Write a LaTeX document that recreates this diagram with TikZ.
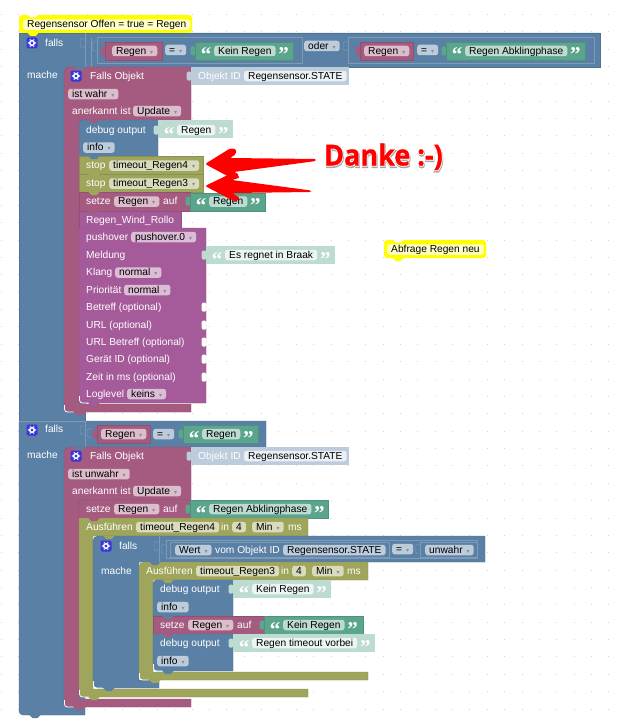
\documentclass[tikz,border=0pt]{standalone}
\usepackage{fontspec}
\setmainfont{Liberation Sans}
\newfontfamily\symbfont{DejaVu Sans}
\newfontfamily\quotefont{Liberation Serif}
\newfontfamily\dankefont[FakeStretch=.93,BoldFeatures={FakeBold=1}]{Open Sans}
\newfontfamily\dankehalo[FakeStretch=.93,BoldFeatures={FakeBold=7}]{Open Sans}
\usetikzlibrary{positioning}
\definecolor{logicblue}{HTML}{5B80A5}
\definecolor{logichi}{HTML}{7D9AB7}
\definecolor{varpink}{HTML}{A55B80}
\definecolor{textgreen}{HTML}{5BA58C}
\definecolor{olivebk}{HTML}{9FA55B}
\definecolor{purplebk}{HTML}{A55B99}
\definecolor{shadowblue}{HTML}{BDCCDB}
\definecolor{shadowgreen}{HTML}{BDDBD1}
\definecolor{pillpink}{HTML}{DBBDCC}
\definecolor{pillolive}{HTML}{D9DBBD}
\definecolor{pillpurple}{HTML}{DBBDD6}
\definecolor{pillwblue}{HTML}{EBF0F5}
\definecolor{pillwgreen}{HTML}{EBF5F1}
\definecolor{commentyel}{HTML}{FFFF00}
\definecolor{commentpale}{HTML}{FFFFC4}
\definecolor{griddot}{HTML}{D2D2D2}
\definecolor{iconblue}{HTML}{3636DC}
\newcommand{\fs}{\fontsize{10.2}{12}\selectfont}
\newcommand{\dd}{\makebox[7pt][r]{\textcolor{black!45}{\symbfont\fontsize{6}{6}\selectfont ▾}}}
\tikzset{
  lbl/.style={anchor=west,inner sep=0pt,text=white,text height=8.5pt,text depth=2pt,font=\fs},
  pill/.style={anchor=west,rounded corners=2.5pt,inner xsep=4pt,inner ysep=0pt,text=black,text height=8.5pt,text depth=2pt,font=\fs},
  pillpk/.style={pill,fill=pillpink},
  pillbl/.style={pill,fill=shadowblue},
  pillgr/.style={pill,fill=shadowgreen},
  pillol/.style={pill,fill=pillolive},
  pillpu/.style={pill,fill=pillpurple},
  pillwb/.style={pill,fill=pillwblue},
  pillwg/.style={pill,fill=pillwgreen},
  pillye/.style={pill,fill=commentpale},
  quot/.style={inner sep=0pt,text=white,text height=6pt,text depth=0pt,yshift=-8pt,font=\quotefont\bfseries\fontsize{21}{21}\selectfont},
  bluebk/.style={fill=logicblue,draw=logicblue!88!black,line width=.4pt},
  pinkbk/.style={fill=varpink,draw=varpink!88!black,line width=.4pt},
  greenbk/.style={fill=textgreen,draw=textgreen!88!black,line width=.4pt},
  olivbk/.style={fill=olivebk,draw=olivebk!88!black,line width=.4pt},
  purpbk/.style={fill=purplebk,draw=purplebk!88!black,line width=.4pt},
  gear/.pic={
    \fill[iconblue,rounded corners=2pt] (-5.5,-5.5) rectangle (5.5,5.5);
    \draw[white,line width=1.5pt] (0,0) circle (2.3);
    \foreach \a in {0,60,...,300} \fill[white] (\a:3.6) circle (.8);
  },
}
% small bump under a block
\newcommand{\bump}[3]{\fill[#1] (#2-5.5,#3) -- (#2-2.5,#3+3) -- (#2+2.5,#3+3) -- (#2+5.5,#3) -- cycle;}
% puzzle tab left of a value
\newcommand{\tab}[3]{\fill[#1,rounded corners=1.5pt] (#2-4.5,#3-4.5) rectangle (#2+.5,#3+4.5);}
% empty socket, outline only
\newcommand{\socket}[2]{\draw[logichi,rounded corners=1.5pt] (#1,#2-4.5) -- (#1-4.5,#2-4.5) -- (#1-4.5,#2+4.5) -- (#1,#2+4.5);}
% white edge on a lower left corner
\newcommand{\hicorner}[2]{\draw[white,line width=.8pt,rounded corners=3pt] (#1,#2-7) -- (#1,#2) -- (#1+9,#2);}
% text value with its quote marks
\newcommand{\lit}[5]{
  \node (#1) [#2] at (#3,#4) {#5};
  \node (#1o) [quot,left=2.5pt of #1] {“};
  \node (#1c) [quot,right=2.5pt of #1] {”};
}
\begin{document}
\begin{tikzpicture}[x=1pt,y=-1pt]
\useasboundingbox (0,0) rectangle (621,725);
\fill[white] (0,0) rectangle (621,725);
\foreach \i in {0,...,35} \foreach \j in {0,...,40}
  \fill[griddot] (.5+17.37*\i,13.8+17.37*\j) rectangle +(1,1);
%
% first falls
\path[bluebk] (19,33) -- (600,33) -- (600,67) -- (85,67) -- (85,421) -- (19,421) -- cycle;
\draw[logichi] (85,33) -- (85,67) (91,38) -- (91,67);
\socket{85}{43}
\draw[logichi] (97,37.5) rectangle (302,63.5) (348,37.5) rectangle (594,63.5);
\socket{97}{46}
\socket{348}{46}
\pic at (32,43) {gear};
\node (falls1) [lbl] at (45,43) {falls};
\node (mache1) [lbl] at (27,75) {mache};
\tab{varpink}{105}{51}
\fill[pinkbk] (105,42) rectangle (162,60);
\node (var1) [pillpk] at (112,51) {Regen\dd};
\node (eq1) [pillbl] at (165,50) {=\dd};
\tab{textgreen}{195}{51}
\fill[greenbk] (195,42) rectangle (293,60);
\lit{txt1}{pillgr}{214}{51}{Kein Regen}
\node (oder1) [pillbl] at (304,46) {oder\dd};
\tab{varpink}{360}{51}
\fill[pinkbk] (360,42) rectangle (413,60);
\node (var2) [pillpk] at (364,51) {Regen\dd};
\node (eq2) [pillbl] at (417,50) {=\dd};
\tab{textgreen}{446}{51}
\fill[greenbk] (446,42) rectangle (585,60);
\lit{txt2}{pillgr}{465}{51}{Regen Abklingphase}
%
% second falls
\path[bluebk] (19,421) -- (266,421) -- (266,447) -- (85,447) -- (85,715) [rounded corners=4pt] -- (19,715) [sharp corners] -- cycle;
\draw[logichi] (19,421) -- (85,421) -- (85,447);
\socket{85}{430}
\socket{92}{433}
\bump{logicblue}{35}{715}
\pic at (32,430) {gear};
\node (falls2) [lbl] at (45,429.5) {falls};
\node (mache2) [lbl] at (27,455) {mache};
\tab{varpink}{97}{434}
\fill[pinkbk] (97,425) rectangle (150,443);
\node (var3) [pillpk] at (101,434) {Regen\dd};
\node (eq3) [pillbl] at (153,434) {=\dd};
\tab{textgreen}{183}{434}
\fill[greenbk] (183,425) rectangle (258,443);
\lit{txt3}{pillgr}{202}{434}{Regen}
%
% falls objekt, upper
\path[pinkbk] (64,72) [rounded corners=5pt] -- (64,67) [sharp corners] -- (191,67) -- (191,120) -- (79,120) -- (79,404) -- (191,404) -- (191,412) [rounded corners=5pt] -- (64,412) [sharp corners] -- cycle;
\bump{logicblue}{80}{67}
\bump{varpink}{80}{412}
\hicorner{64.5}{412}
\tab{shadowblue}{191}{76}
\fill[shadowblue] (191,67) rectangle (349,85);
\pic at (76,76) {gear};
\node (obj1) [lbl] at (90,76) {Falls Objekt};
\node (objid1) [lbl] at (198,76) {Objekt ID};
\node (state1) [pillwb] at (244,76) {Regensensor.STATE};
\node (wahr1) [pillpk] at (68,94) {ist wahr\dd};
\node (ack1) [lbl] at (72,111) {anerkannt ist};
\node (upd1) [pillpk] at (133,111) {Update\dd};
%
% debug, stop and setze
\path[bluebk] (79,124) [rounded corners=4pt] -- (79,120) [sharp corners] -- (158,120) -- (158,156) -- (79,156) -- cycle;
\bump{varpink}{94}{120}
\tab{shadowgreen}{158}{130}
\fill[shadowgreen] (158,120) rectangle (233,138);
\node (dbg1) [lbl] at (86,130) {debug output};
\lit{txt4}{pillwg}{177}{130}{Regen}
\node (info1) [pillbl] at (83,147.5) {info\dd};
\fill[olivbk] (79,156) rectangle (203,174);
\fill[olivbk] (79,174) rectangle (203,192);
\bump{logicblue}{94}{156}
\bump{olivebk}{94}{174}
\node (stop1) [lbl] at (86,165.5) {stop};
\node (tmo1) [pillol] at (109,165.5) {timeout\_Regen4\dd};
\node (stop2) [lbl] at (86,183.5) {stop};
\node (tmo2) [pillol] at (109,183.5) {timeout\_Regen3\dd};
\fill[pinkbk] (79,192) rectangle (190,211);
\bump{olivebk}{94}{192}
\tab{textgreen}{190}{201}
\fill[greenbk] (190,193) rectangle (265,211);
\node (setze1) [lbl] at (86,201.5) {setze};
\node (var4) [pillpk] at (114,201.5) {Regen\dd};
\node (auf1) [lbl] at (163,201.5) {auf};
\lit{txt5}{pillgr}{209}{201.5}{Regen}
%
% pushover
\fill[purpbk] (79,211) rectangle (181,228);
\bump{varpink}{94}{211}
\node (wind1) [lbl] at (86,220) {Regen\_Wind\_Rollo};
\path[purpbk] (79,228) -- (206,228) -- (206,403) [rounded corners=4pt] -- (79,403) [sharp corners] -- cycle;
\bump{purplebk}{94}{228}
\bump{purplebk}{94}{403}
\hicorner{79.5}{403}
\node (po1) [lbl] at (86,237) {pushover};
\node (po2) [pillpu] at (131,237) {pushover.0\dd};
\node (po3) [lbl] at (86,255) {Meldung};
\tab{shadowgreen}{206}{255}
\fill[shadowgreen] (206,246) rectangle (335,264);
\lit{txt6}{pillwg}{225}{255}{Es regnet in Braak}
\node (po4) [lbl] at (86,272.5) {Klang};
\node (po5) [pillpu] at (115,272.5) {normal\dd};
\node (po6) [lbl] at (86,290) {Priorität};
\node (po7) [pillpu] at (124,290) {normal\dd};
\node (po8) [lbl] at (86,307) {Betreff (optional)};
\node (po9) [lbl] at (86,325) {URL (optional)};
\node (po10) [lbl] at (86,342) {URL Betreff (optional)};
\node (po11) [lbl] at (86,359) {Gerät ID (optional)};
\node (po12) [lbl] at (86,377) {Zeit in ms (optional)};
\foreach \r in {307,325,342,359,377} {\tab{white}{206}{\r}}
\node (po13) [lbl] at (86,394) {Loglevel};
\node (po14) [pillpu] at (127,394) {keins\dd};
%
% falls objekt, lower
\path[pinkbk] (64,452) [rounded corners=5pt] -- (64,447) [sharp corners] -- (191,447) -- (191,500) -- (79,500) -- (79,699) -- (191,699) -- (191,707) [rounded corners=5pt] -- (64,707) [sharp corners] -- cycle;
\bump{logicblue}{80}{447}
\bump{varpink}{80}{707}
\hicorner{64.5}{707}
\tab{shadowblue}{191}{456}
\fill[shadowblue] (191,447) rectangle (349,465);
\pic at (76,456) {gear};
\node (obj2) [lbl] at (90,456) {Falls Objekt};
\node (objid2) [lbl] at (198,456) {Objekt ID};
\node (state2) [pillwb] at (244,456) {Regensensor.STATE};
\node (wahr2) [pillpk] at (68,474) {ist unwahr\dd};
\node (ack2) [lbl] at (72,491) {anerkannt ist};
\node (upd2) [pillpk] at (133,491) {Update\dd};
\path[pinkbk] (79,504) [rounded corners=4pt] -- (79,500) [sharp corners] -- (190,500) -- (190,518) -- (79,518) -- cycle;
\tab{textgreen}{190}{509}
\fill[greenbk] (190,500) rectangle (328,518);
\node (setze2) [lbl] at (86,509) {setze};
\node (var5) [pillpk] at (114,509) {Regen\dd};
\node (auf2) [lbl] at (163,509) {auf};
\lit{txt7}{pillgr}{209}{509}{Regen Abklingphase}
%
% ausfuehren, outer
\path[olivbk] (79,518) -- (308,518) -- (308,536) -- (93,536) -- (93,689) -- (308,689) -- (308,697) [rounded corners=5pt] -- (79,697) [sharp corners] -- cycle;
\bump{varpink}{94}{518}
\bump{olivebk}{94}{697}
\hicorner{79.5}{697}
\node (run1) [lbl] at (86,527) {Ausführen};
\node (tmo3) [pillol] at (136,527) {timeout\_Regen4};
\node (in1) [lbl] at (221,527) {in};
\node (num1) [pillol] at (232,527) {4};
\node (unit1) [pillol] at (252,527) {Min\dd};
\node (ms1) [lbl] at (288,527) {ms};
%
% inner falls
\path[bluebk] (93,600) [rounded corners=5pt] -- (93,536) [sharp corners] -- (485,536) -- (485,562) -- (139,562) -- (139,680) -- (159,680) -- (159,688) [rounded corners=5pt] -- (93,688) [sharp corners] -- cycle;
\bump{olivebk}{109}{536}
\bump{logicblue}{109}{688}
\hicorner{93.5}{688}
\draw[logichi] (159,536) -- (159,562) (166,540) rectangle (477,558) (170,542) rectangle (389,557) (420,542) rectangle (477,557);
\socket{159}{546}
\socket{166}{549}
\socket{420}{549}
\pic at (106,546) {gear};
\node (falls3) [lbl] at (119,546) {falls};
\node (mache3) [lbl] at (101,571) {mache};
\node (wert1) [pillbl] at (175,550) {Wert\dd};
\node (vom1) [lbl] at (215,550) {vom Objekt ID};
\node (state3) [pillbl] at (283,550) {Regensensor.STATE};
\node (eq4) [pillbl] at (392,549) {=\dd};
\node (unw1) [pillbl] at (425,550) {unwahr\dd};
%
% ausfuehren, inner
\path[olivbk] (139,620) [rounded corners=5pt] -- (139,562) [sharp corners] -- (368,562) -- (368,580) -- (153,580) -- (153,672) -- (368,672) -- (368,680) [rounded corners=5pt] -- (139,680) [sharp corners] -- cycle;
\bump{logicblue}{155}{562}
\bump{olivebk}{155}{680}
\hicorner{139.5}{680}
\node (run2) [lbl] at (146,571) {Ausführen};
\node (tmo4) [pillol] at (196,571) {timeout\_Regen3};
\node (in2) [lbl] at (281,571) {in};
\node (num2) [pillol] at (292,571) {4};
\node (unit2) [pillol] at (312,571) {Min\dd};
\node (ms2) [lbl] at (347,571) {ms};
%
% inner stack
\path[bluebk] (153,584) [rounded corners=4pt] -- (153,580) [sharp corners] -- (233,580) -- (233,616) -- (153,616) -- cycle;
\bump{olivebk}{168}{580}
\tab{shadowgreen}{233}{589}
\fill[shadowgreen] (233,580) rectangle (331,598);
\node (dbg2) [lbl] at (160,589) {debug output};
\lit{txt8}{pillwg}{252}{589}{Kein Regen}
\node (info2) [pillbl] at (157,607) {info\dd};
\fill[pinkbk] (153,616) rectangle (264,634);
\bump{logicblue}{168}{616}
\tab{textgreen}{264}{625}
\fill[greenbk] (264,616) rectangle (363,634);
\node (setze3) [lbl] at (160,625) {setze};
\node (var6) [pillpk] at (188,625) {Regen\dd};
\node (auf3) [lbl] at (237,625) {auf};
\lit{txt9}{pillgr}{283}{625}{Kein Regen}
\path[bluebk] (153,634) -- (233,634) -- (233,671) [rounded corners=4pt] -- (153,671) [sharp corners] -- cycle;
\bump{varpink}{168}{634}
\bump{logicblue}{168}{671}
\hicorner{153.5}{671}
\tab{shadowgreen}{233}{643}
\fill[shadowgreen] (233,634) rectangle (375,652);
\node (dbg3) [lbl] at (160,643) {debug output};
\lit{txt10}{pillwg}{252}{643}{Regen timeout vorbei}
\node (info3) [pillbl] at (157,661) {info\dd};
%
% comments
\path[fill=commentyel,rounded corners=3pt] (19,33) -- (19,15) -- (192,15) -- (192,33) -- cycle;
\bump{white}{33}{14.5}
\bump{commentyel}{33}{33}
\node (note1) [pillye] at (23,24.6) {Regensensor Offen = true = Regen};
\path[fill=commentyel,rounded corners=3pt] (384,258) -- (384,240) -- (486,240) -- (486,258) -- cycle;
\bump{white}{398}{239.5}
\bump{commentyel}{398}{258}
\node (note2) [pillye] at (387,249.5) {Abfrage Regen neu};
%
% arrows
\fill[red,rounded corners=1.5pt] (205,164) -- (230,148.5) -- (236,149) -- (236,154) -- (230,158) -- (316,159) -- (316,161) -- (234,172) -- (240,178) -- (233,179) -- cycle;
\fill[red,rounded corners=1.5pt] (205,186) -- (233,172.5) -- (238,173) -- (238,178) -- (232,180) -- (311,190.5) -- (311,192) -- (232,193) -- (240,198) -- (236,201.5) -- (230,199) -- cycle;
%
% danke
\node (dankeb) [anchor=base west,inner sep=0pt,text=black!35,font=\dankehalo\bfseries\fontsize{29}{29}\selectfont] at (324.5,167) {Danke :-)};
\node (dankew) [anchor=base west,inner sep=0pt,text=white,font=\dankehalo\bfseries\fontsize{29}{29}\selectfont] at (324,165.5) {Danke :-)};
\node (danke) [anchor=base west,inner sep=0pt,text=red,font=\dankefont\bfseries\fontsize{29}{29}\selectfont] at (324,165.5) {Danke :-)};
\end{tikzpicture}
\end{document}
